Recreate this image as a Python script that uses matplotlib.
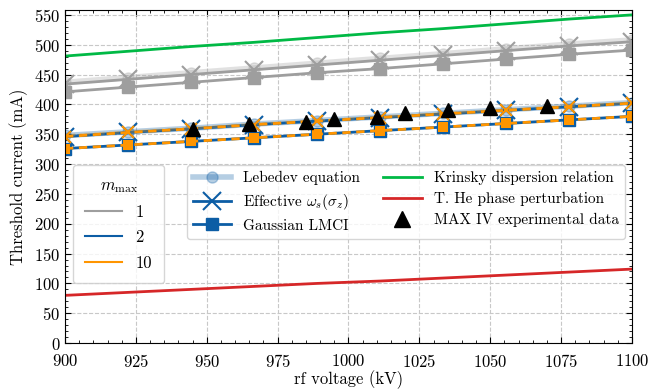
"""Threshold current vs rf voltage: comparison of models with MAX IV data."""

import numpy as np
import matplotlib.pyplot as plt
from matplotlib.lines import Line2D

# rf voltage scan points (kV)
voltage = np.linspace(900, 1100, 10)

# m_max = 1
lebedev_m1 = [437, 445, 453, 461, 469, 477, 485, 493, 501, 508]
effective_m1 = [434, 442, 450, 458, 466, 474, 482, 490, 498, 505]
gaussian_m1 = [421, 429, 437, 445, 453, 460, 468, 476, 484, 491]

# m_max = 2
lebedev_m2 = [348, 354, 360, 367, 373, 379, 385, 391, 397, 403]
effective_m2 = [346, 353, 359, 366, 372, 378, 384, 390, 396, 402]
gaussian_m2 = [326, 332, 338, 344, 350, 356, 362, 368, 374, 380]

# m_max = 10
lebedev_m10 = [348, 354, 360, 367, 373, 379, 385, 391, 397, 403]
effective_m10 = [346, 353, 359, 366, 372, 378, 384, 390, 396, 402]
gaussian_m10 = [326, 332, 338, 344, 350, 356, 362, 368, 374, 380]

# analytic models
krinsky = [481, 489, 497, 504, 512, 520, 527, 535, 543, 550]
he_phase = [80, 85, 90, 95, 100, 104, 109, 114, 119, 124]

# MAX IV measurements
exp_voltage = [945, 965, 985, 995, 1010, 1020, 1035, 1050, 1070]
exp_current = [359, 367, 370, 375.5, 379.5, 385, 390.5, 394, 398]

GRAY = "#9e9e9e"
BLUE = "#0C5DA5"
ORANGE = "#FF9500"
GREEN = "#00B945"
RED = "#d62728"


def main():
    plt.rcParams["font.family"] = ["cmr10", "DejaVu Serif"]
    plt.rcParams["mathtext.fontset"] = "cm"
    plt.rcParams["axes.formatter.use_mathtext"] = True
    plt.rcParams["font.size"] = 12

    fig = plt.figure(figsize=(6.52, 3.89), dpi=100)
    ax = fig.add_axes([0.0997, 0.118, 0.8696, 0.856])

    groups = [
        (GRAY, lebedev_m1, effective_m1, gaussian_m1),
        (BLUE, lebedev_m2, effective_m2, gaussian_m2),
    ]
    for color, leb, eff, gau in groups:
        ax.plot(voltage, leb, color=color, lw=4, alpha=0.3, marker="o", ms=8)
        ax.plot(voltage, eff, color=color, lw=2, marker="x", ms=13, mew=1.5)
        ax.plot(voltage, gau, color=color, lw=2, marker="s", ms=8)

    # m_max = 10 drawn dashed on top of m_max = 2
    ax.plot(voltage, lebedev_m10, color=ORANGE, lw=2, ls="--", alpha=0.3)
    ax.plot(voltage, effective_m10, color=ORANGE, lw=2, ls=(0, (3, 2)),
            marker="x", ms=8, mew=1.5)
    ax.plot(voltage, gaussian_m10, color=ORANGE, lw=2, ls=(0, (3, 2)),
            marker="s", ms=6.5, mew=0)

    ax.plot(voltage, krinsky, color=GREEN, lw=2)
    ax.plot(voltage, he_phase, color=RED, lw=2)
    ax.plot(exp_voltage, exp_current, ls="none", marker="^", ms=10.5,
            color="black", zorder=5)

    ax.set_xlim(900, 1100)
    ax.set_ylim(0, 558)
    ax.set_xticks(np.arange(900, 1101, 25))
    ax.set_yticks(np.arange(0, 551, 50))
    ax.set_xticks(np.arange(900, 1101, 5), minor=True)
    ax.set_yticks(np.arange(0, 558, 10), minor=True)
    ax.tick_params(which="both", direction="in", top=True, right=True)
    ax.tick_params(which="major", length=4, labelsize=12)
    ax.tick_params(axis="x", which="major", pad=7)
    ax.tick_params(which="minor", length=2)
    ax.grid(True, which="major", ls="--", color="#c8c8c8", lw=0.8)
    ax.set_xlabel("rf voltage (kV)", fontsize=12, labelpad=0)
    ax.set_ylabel("Threshold current (mA)", fontsize=12, labelpad=4)

    # legend for m_max colours
    m_handles = [
        Line2D([], [], color=GRAY, lw=1.5),
        Line2D([], [], color=BLUE, lw=1.5),
        Line2D([], [], color=ORANGE, lw=1.5),
    ]
    leg1 = ax.legend(m_handles, ["1", "2", "10"], title=r"$m_{\max}$",
                     loc="upper left", bbox_to_anchor=(0.014, 0.535),
                     borderaxespad=0, fontsize=12, title_fontsize=12,
                     handlelength=2.2, borderpad=0.75, labelspacing=0.6,
                     edgecolor="#cccccc")
    ax.add_artist(leg1)

    # legend for methods
    method_handles = [
        Line2D([], [], color=BLUE, lw=4, alpha=0.3, marker="o", ms=8),
        Line2D([], [], color=BLUE, lw=2, marker="x", ms=13, mew=1.5),
        Line2D([], [], color=BLUE, lw=2, marker="s", ms=8),
        Line2D([], [], color=GREEN, lw=2),
        Line2D([], [], color=RED, lw=2),
        Line2D([], [], ls="none", marker="^", ms=11, color="black"),
    ]
    method_labels = [
        "Lebedev equation",
        r"Effective $\omega_s(\sigma_z)$",
        "Gaussian LMCI",
        "Krinsky dispersion relation",
        "T. He phase perturbation",
        "MAX IV experimental data",
    ]
    ax.legend(method_handles, method_labels, ncol=2, loc="upper left",
              bbox_to_anchor=(0.215, 0.535), borderaxespad=0, fontsize=11,
              handlelength=2.5, columnspacing=1.5, labelspacing=0.45,
              edgecolor="#cccccc")

    fig.savefig("out.png", dpi=100)
    plt.close(fig)


if __name__ == "__main__":
    main()
